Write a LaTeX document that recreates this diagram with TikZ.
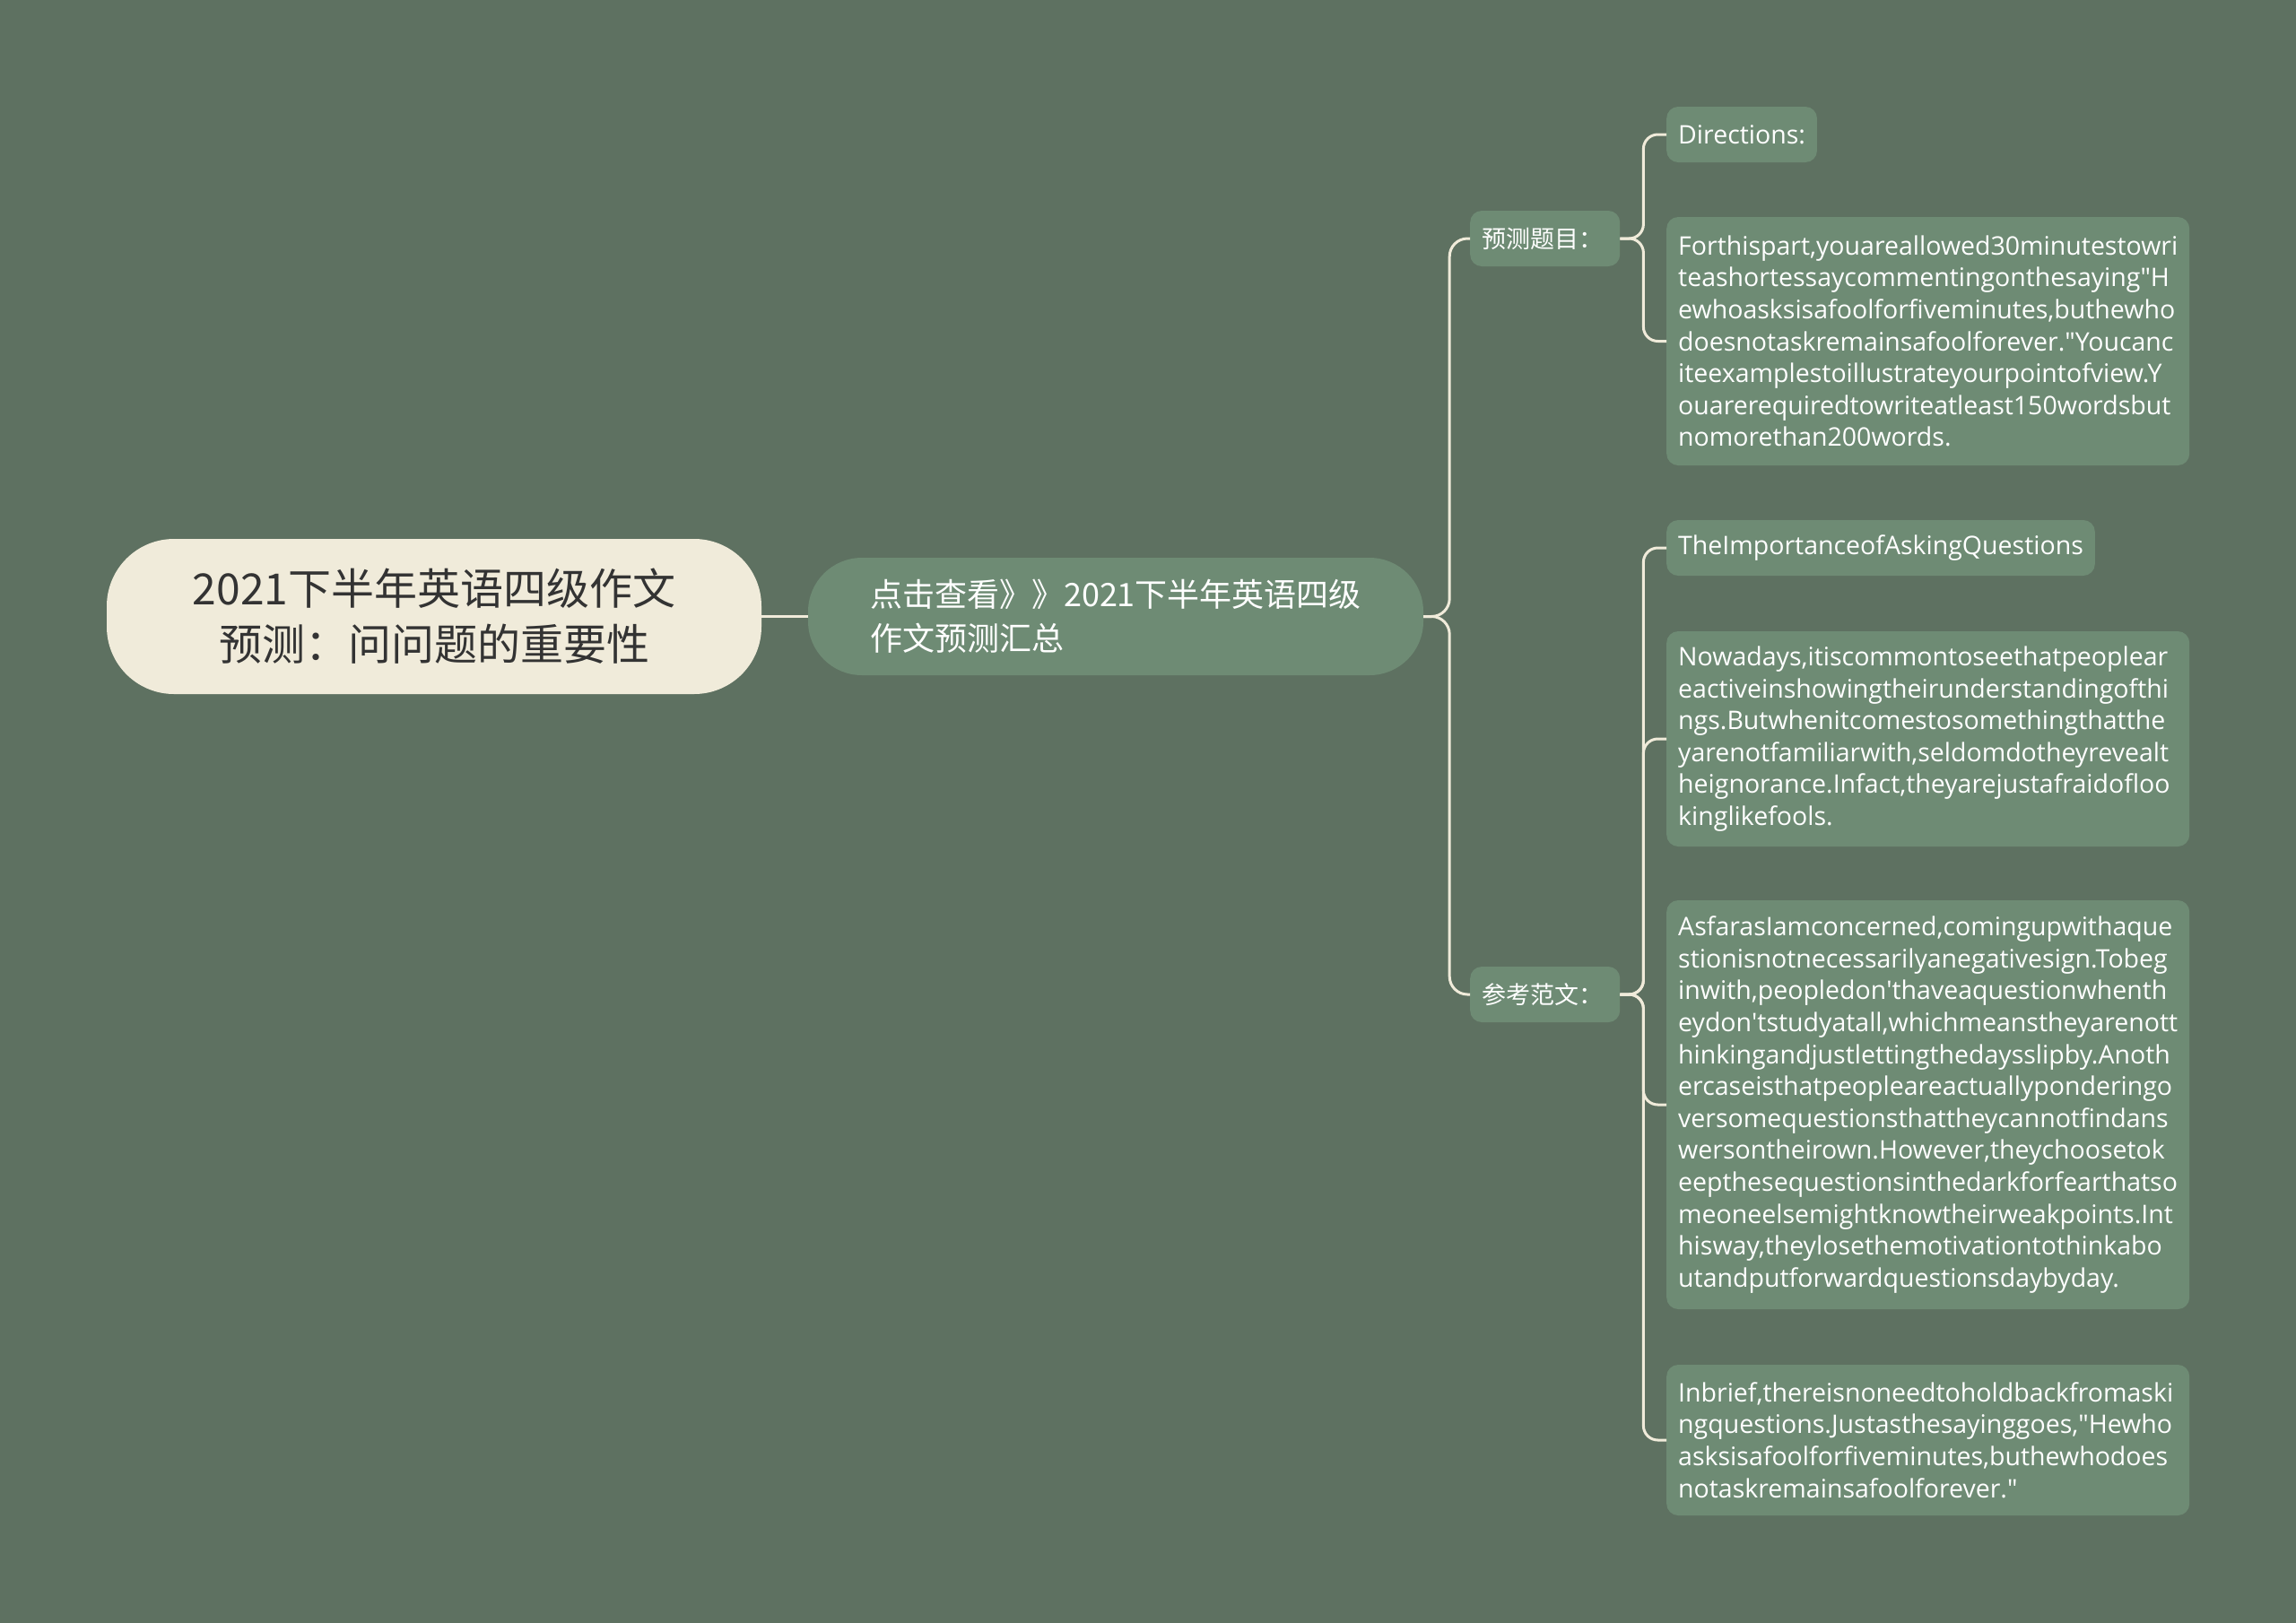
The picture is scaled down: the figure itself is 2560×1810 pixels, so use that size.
\documentclass[tikz,border=0pt]{standalone}
\usepackage{fontspec}
\setmainfont{Open Sans}
\newfontfamily\cjk{Noto Sans CJK SC}
\definecolor{bgcol}{HTML}{5E7161}
\definecolor{nodefill}{HTML}{6E8B74}
\definecolor{rootfill}{HTML}{F0EBDA}
\definecolor{roottext}{HTML}{333333}
\definecolor{linecol}{HTML}{F0EBDA}
\hyphenpenalty=10000
\exhyphenpenalty=10000

\begin{document}
\begin{tikzpicture}[x=1pt,y=-1pt,
    rootbox/.style={rectangle,rounded corners=75pt,fill=rootfill,text=roottext,
        font=\cjk\fontsize{48}{62}\selectfont,align=center,
        minimum width=730pt,minimum height=173pt},
    hubbox/.style={rectangle,rounded corners=60pt,fill=nodefill,text=white,
        font=\cjk\fontsize{36}{49}\selectfont,align=left,
        minimum width=686pt,minimum height=131pt},
    tagbox/.style={rectangle,rounded corners=13pt,fill=nodefill,text=white,
        font=\cjk\fontsize{27}{30}\selectfont,inner xsep=13pt,
        text width=141pt,align=left,minimum height=62pt,anchor=west},
    leafbox/.style={rectangle,rounded corners=13pt,fill=nodefill,text=white,
        font=\fontsize{28.5}{35.6}\selectfont,inner xsep=13pt,
        minimum height=62pt,anchor=west},
    textbox/.style={leafbox,text width=557pt,align=left},
    link/.style={draw=linecol,line width=3pt}
  ]

            \fill[bgcol] (0,0) rectangle (2560,1810);
            \useasboundingbox (0,0) rectangle (2560,1810);

            \path   (484,687.5) node (root) [rootbox] {2021下半年英语四级作文\\预测：问问题的重要性}
                    (1244,687.5) node (hub) [hubbox] {点击查看》》2021下半年英语四级\\作文预测汇总}
                    (1639,266) node (yuce) [tagbox] {预测题目：}
                    (1639,1109) node (fanwen) [tagbox] {参考范文：}
                    (1858,150) node (dir) [leafbox] {Directions:}
                    (1858,380.5) node (part) [textbox,minimum height=277pt] {Forthispart,youareallowed30minutestowri\\
                        teashortessaycommentingonthesaying\textquotedbl H\\
                        ewhoasksisafoolforfiveminutes,buthewho\\
                        doesnotaskremainsafoolforever.\textquotedbl Youcanc\\
                        iteexamplestoillustrateyourpointofview.Y\\
                        ouarerequiredtowriteatleast150wordsbut\\
                        nomorethan200words.}
                    (1858,611) node (title) [leafbox] {TheImportanceofAskingQuestions}
                    (1858,824) node (para1) [textbox,minimum height=240pt] {Nowadays,itiscommontoseethatpeoplear\\
                        eactiveinshowingtheirunderstandingofthi\\
                        ngs.Butwhenitcomestosomethingthatthe\\
                        yarenotfamiliarwith,seldomdotheyrevealt\\
                        heignorance.Infact,theyarejustafraidofloo\\
                        kinglikefools.}
                    (1858,1232) node (para2) [textbox,minimum height=456pt] {AsfarasIamconcerned,comingupwithaque\\
                        stionisnotnecessarilyanegativesign.Tobeg\\
                        inwith,peopledon\textquotesingle thaveaquestionwhenth\\
                        eydon\textquotesingle tstudyatall,whichmeanstheyarenott\\
                        hinkingandjustlettingthedaysslipby.Anoth\\
                        ercaseisthatpeopleareactuallyponderingo\\
                        versomequestionsthattheycannotfindans\\
                        wersontheirown.However,theychoosetok\\
                        eepthesequestionsinthedarkforfearthatso\\
                        meoneelsemightknowtheirweakpoints.Int\\
                        hisway,theylosethemotivationtothinkabo\\
                        utandputforwardquestionsdaybyday.}
                    (1858,1606) node (para3) [textbox,minimum height=168pt] {Inbrief,thereisnoneedtoholdbackfromaski\\
                        ngquestions.Justasthesayinggoes,\textquotedbl Hewho\\
                        asksisafoolforfiveminutes,buthewhodoes\\
                        notaskremainsafoolforever.\textquotedbl};

            \draw[link] (node cs: name =root, anchor=east) -- (node cs: name =hub, anchor=west);
            \draw[link,rounded corners=20pt] (node cs: name =hub, anchor=east) -- ++(29,0) |- (node cs: name =yuce, anchor=west);
            \draw[link,rounded corners=20pt] (node cs: name =hub, anchor=east) -- ++(29,0) |- (node cs: name =fanwen, anchor=west);
            \draw[link,rounded corners=16pt] (node cs: name =yuce, anchor=east) -- ++(26,0) |- (node cs: name =dir, anchor=west);
            \draw[link,rounded corners=16pt] (node cs: name =yuce, anchor=east) -- ++(26,0) |- (node cs: name =part, anchor=west);
            \draw[link,rounded corners=16pt] (node cs: name =fanwen, anchor=east) -- ++(26,0) |- (node cs: name =title, anchor=west);
            \draw[link,rounded corners=16pt] (node cs: name =fanwen, anchor=east) -- ++(26,0) |- (node cs: name =para1, anchor=west);
            \draw[link,rounded corners=16pt] (node cs: name =fanwen, anchor=east) -- ++(26,0) |- (node cs: name =para2, anchor=west);
            \draw[link,rounded corners=16pt] (node cs: name =fanwen, anchor=east) -- ++(26,0) |- (node cs: name =para3, anchor=west);

        \end{tikzpicture}
\end{document}
